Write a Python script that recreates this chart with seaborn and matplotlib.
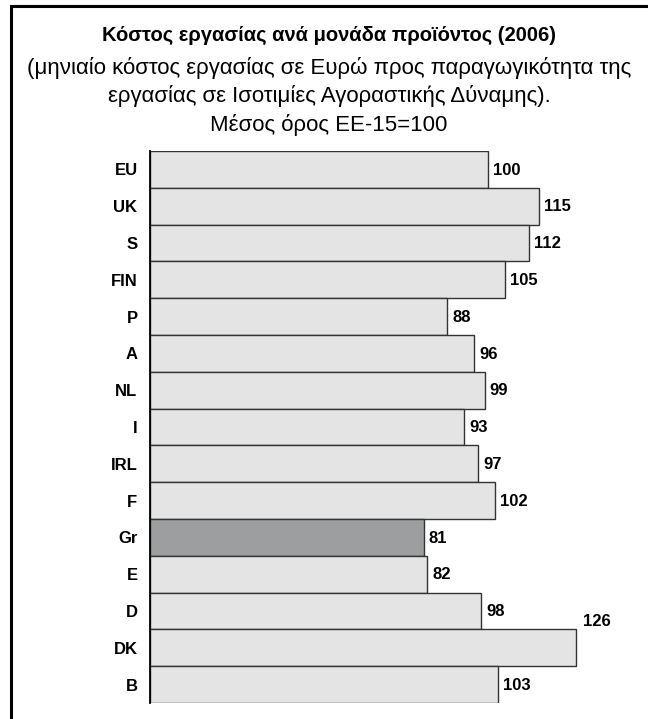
import matplotlib
matplotlib.use("Agg")
import matplotlib.pyplot as plt
import seaborn as sns
import pandas as pd
from matplotlib.patches import Rectangle

# data
countries = ["EU", "UK", "S", "FIN", "P", "A", "NL", "I", "IRL", "F", "Gr", "E", "D", "DK", "B"]
values = [100, 115, 112, 105, 88, 96, 99, 93, 97, 102, 81, 82, 98, 126, 103]
highlight = "Gr"

title = "Κόστος εργασίας ανά μονάδα προϊόντος (2006)"
subtitle = ["(μηνιαίο κόστος εργασίας σε Ευρώ προς παραγωγικότητα της",
            "εργασίας σε Ισοτιμίες Αγοραστικής Δύναμης).",
            "Μέσος όρος ΕΕ-15=100"]

sns.set_style("white")
plt.rcParams['font.family'] = ['Liberation Sans Narrow', 'Liberation Sans', 'DejaVu Sans']
plt.rcParams['text.color'] = 'black'
plt.rcParams['ytick.labelcolor'] = 'black'

df = pd.DataFrame({"country": countries, "value": values})
light = "#e3e4e3"
dark = "#9d9e9f"
palette = {c: (dark if c == highlight else light) for c in countries}

fig = plt.figure(figsize=(6.48, 7.19), dpi=100)
ax = fig.add_axes([150 / 648, 1 - 703 / 719, 470 / 648, (703 - 151) / 719])

sns.barplot(data=df, y="country", x="value", hue="country", palette=palette,
            order=countries, width=1.0, edgecolor="#333333", linewidth=1.0,
            legend=False, ax=ax)

ax.set_xlim(0, 470 / 3.38)
ax.set_ylim(len(countries) - 0.5, -0.5)
ax.set_xlabel("")
ax.set_ylabel("")
ax.set_xticks([])
for s in ["top", "right", "bottom"]:
    ax.spines[s].set_visible(False)
ax.spines["left"].set_color("black")
ax.spines["left"].set_linewidth(1.3)

ax.tick_params(axis="y", which="major", length=0, pad=9)
ax.set_yticks(range(len(countries)))
ax.set_yticklabels(countries, fontsize=12, fontweight="bold")
ax.set_yticks([i - 0.5 for i in range(len(countries) + 1)], minor=True)
ax.tick_params(axis="y", which="minor", length=3, width=1, color="black")

for i, v in enumerate(values):
    if v == max(values):
        ax.text(v + 2, i - 0.72, str(v), va="center", ha="left",
                fontsize=12, fontweight="bold")
    else:
        ax.text(v + 1.5, i + 0.02, str(v), va="center", ha="left",
                fontsize=12, fontweight="bold")

fig.text(0.508, 1 - 35 / 719, title, ha="center", va="center",
         fontsize=14.5, fontweight="bold")
for line, yy in zip(subtitle, [68, 96, 125]):
    fig.text(0.508, 1 - yy / 719, line, ha="center", va="center", fontsize=16)

# frame around the whole graphic (left and top edges visible)
fig.patches.append(Rectangle((10.5 / 648, -0.1), 1.2, 1 - 5.5 / 719 + 0.1,
                             transform=fig.transFigure, fill=False,
                             edgecolor="black", linewidth=2.2))

fig.savefig("out.png", dpi=100)
